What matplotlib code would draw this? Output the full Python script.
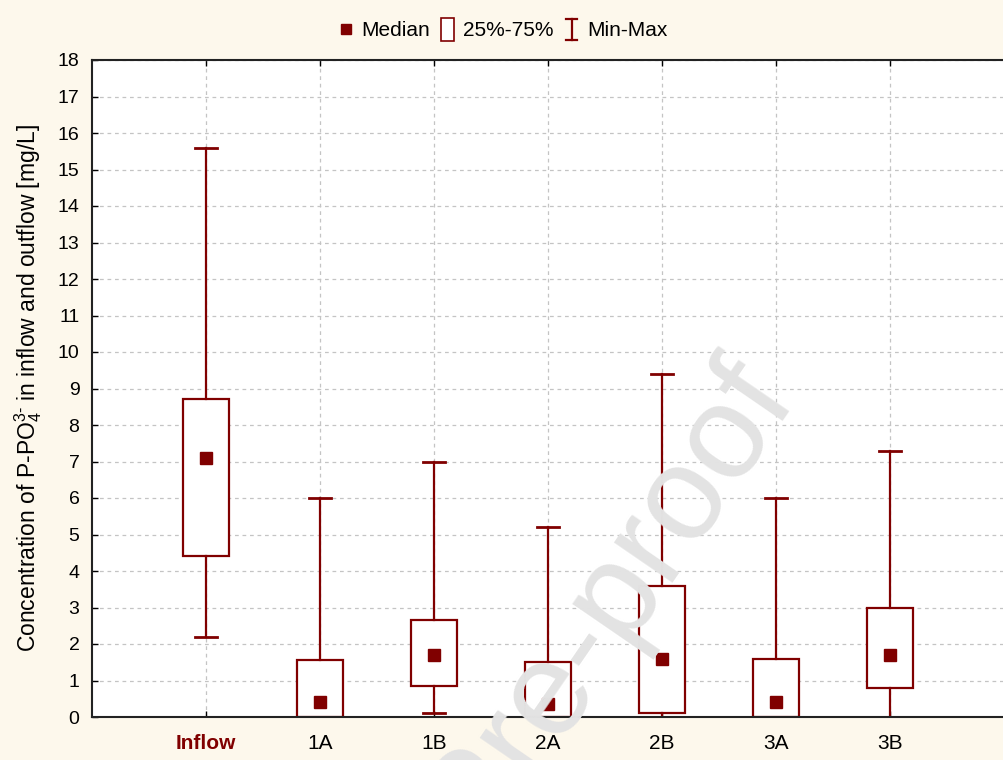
import matplotlib
matplotlib.use("Agg")
import matplotlib.pyplot as plt
from matplotlib.lines import Line2D
from matplotlib.patches import Patch, Rectangle
from matplotlib.legend_handler import HandlerBase, HandlerPatch

categories = ["Inflow", "1A", "1B", "2A", "2B", "3A", "3B"]
mins    = [2.2, 0.0, 0.1, 0.0, 0.0, 0.0, 0.0]
q1s     = [4.4, 0.0, 0.85, 0.0, 0.1, 0.0, 0.8]
medians = [7.1, 0.4, 1.7, 0.35, 1.6, 0.4, 1.7]
q3s     = [8.7, 1.55, 2.65, 1.5, 3.6, 1.6, 3.0]
maxs    = [15.6, 6.0, 7.0, 5.2, 9.4, 6.0, 7.3]
yticks = list(range(0, 19))

RED = "#800000"
BG = "#FDF8EC"

plt.rcParams["font.family"] = ["Liberation Sans", "DejaVu Sans"]
plt.rcParams["mathtext.fontset"] = "custom"
plt.rcParams["mathtext.rm"] = "Liberation Sans"
plt.rcParams["mathtext.it"] = "Liberation Sans:italic"

fig = plt.figure(figsize=(10.04, 7.6), dpi=100, facecolor=BG)
ax = fig.add_axes([92/1004, 43/760, 1 - 92/1004, 657/760])
ax.set_facecolor("white")

positions = list(range(len(categories)))
stats = []
for c, lo, a, m, b, hi in zip(categories, mins, q1s, medians, q3s, maxs):
    stats.append(dict(label=c, whislo=lo, q1=a, med=m, q3=b, whishi=hi, fliers=[]))

ax.bxp(stats, positions=positions, widths=0.40, capwidths=0.2,
       showfliers=False, patch_artist=True,
       boxprops=dict(facecolor="white", edgecolor=RED, linewidth=1.6),
       whiskerprops=dict(color=RED, linewidth=1.6),
       capprops=dict(color=RED, linewidth=2.0),
       medianprops=dict(linewidth=0))
ax.plot(positions, medians, linestyle="none", marker="s", markersize=8,
        color=RED, zorder=5)

ax.set_xlim(-1, 7)
ax.set_ylim(0, 18)
ax.set_yticks(yticks)
ax.set_xticks(positions)
ax.set_xticklabels(categories)
lbl = ax.get_xticklabels()[0]
lbl.set_color(RED)
lbl.set_fontweight("bold")

ax.tick_params(axis="both", direction="in", length=4, width=1)
ax.tick_params(axis="x", top=True, pad=12, labelsize=15)
ax.tick_params(axis="y", pad=9, labelsize=14)
ax.grid(True, color="#c4c4c4", linestyle=(0, (3, 3)), linewidth=0.9)
ax.set_axisbelow(True)
for s in ["left", "top", "bottom"]:
    ax.spines[s].set_linewidth(1.5)
    ax.spines[s].set_color("#222222")
ax.spines["right"].set_visible(False)

ax.set_ylabel(r"Concentration of P-PO$_4^{3\mathrm{\text{-}}}$ in inflow and outflow [mg/L]",
              fontsize=16.5)
ax.yaxis.set_label_coords(-0.053, 0.5)


class HandlerIBeam(HandlerBase):
    def create_artists(self, legend, orig_handle, xdescent, ydescent,
                       width, height, fontsize, trans):
        cx = width / 2 - xdescent
        top = height * 1.2
        bot = -height * 0.25
        hw = width * 0.3
        arts = [
            Line2D([cx, cx], [bot, top], color=RED, lw=1.6),
            Line2D([cx - hw, cx + hw], [top, top], color=RED, lw=1.6),
            Line2D([cx - hw, cx + hw], [bot, bot], color=RED, lw=1.6),
        ]
        for a in arts:
            a.set_transform(trans)
        return arts


def narrow_box(legend, orig_handle, xdescent, ydescent, width, height, fontsize):
    return Rectangle((width * 0.15 - xdescent, -height * 0.3 - ydescent),
                     width * 0.7, height * 1.55)


h_med = Line2D([], [], marker="s", color=RED, linestyle="none", markersize=7)
h_box = Patch(facecolor="white", edgecolor=RED, linewidth=1.2)
h_mm = Line2D([], [], color=RED)
fig.legend([h_med, h_box, h_mm], ["Median", "25%-75%", "Min-Max"],
           loc="center", bbox_to_anchor=(0.5, 1 - 31/760), ncol=3,
           frameon=False, fontsize=15, handlelength=0.9, handletextpad=0.3,
           columnspacing=0.4,
           handler_map={h_box: HandlerPatch(patch_func=narrow_box),
                        h_mm: HandlerIBeam()})

fig.text(798/1004, 1 - 400/760, "Journal Pre-proof", fontsize=96,
         color="#E3E3E3", rotation=55.5, rotation_mode="anchor",
         ha="right", va="baseline", zorder=20)

fig.savefig("out.png", dpi=100, facecolor=BG)
